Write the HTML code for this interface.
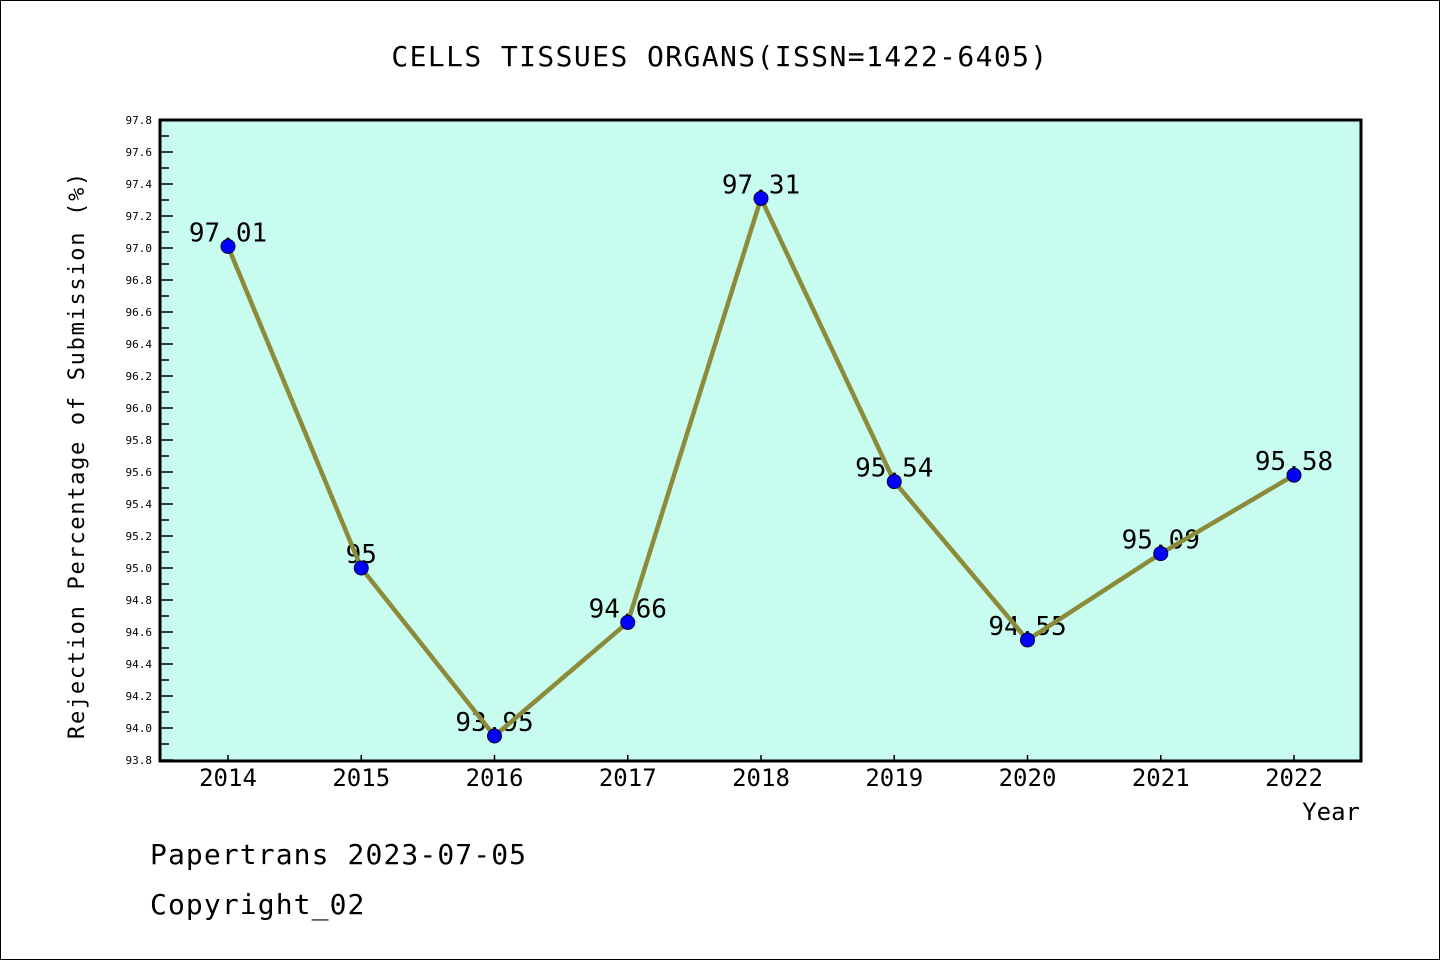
<!DOCTYPE html>
<html><head><meta charset="utf-8"><style>
body{margin:0;background:#fff}
svg{display:block}
text{font-family:"DejaVu Sans Mono","Liberation Mono",monospace}
</style></head><body>
<svg id="chart" width="1440" height="960" xmlns="http://www.w3.org/2000/svg">
<rect x="0.5" y="0.5" width="1439" height="959" fill="#fff" stroke="#000" stroke-width="1"/>
<text x="720" y="66" font-size="28" letter-spacing="1.4" text-anchor="middle">CELLS TISSUES ORGANS(ISSN=1422-6405)</text>
<rect x="160" y="120" width="1201" height="641" fill="#c8fcee"/>
<g id="yticks"></g>
<g id="xticks"></g>
<g id="labels"></g>
<path id="line" fill="none" stroke="#8b8b3a" stroke-width="4.5" stroke-linejoin="round"/>
<g id="points"></g>
<rect x="160" y="120" width="1201" height="641" fill="none" stroke="#000" stroke-width="3"/>
<text transform="translate(84,455) rotate(-90)" font-size="22" text-anchor="middle" letter-spacing="1.7">Rejection Percentage of Submission (%)</text>
<text x="1360" y="820" font-size="24" text-anchor="end">Year</text>
<text x="150" y="864" font-size="28" letter-spacing="1.1">Papertrans 2023-07-05</text>
<text x="150" y="914" font-size="28" letter-spacing="1.1">Copyright_02</text>
</svg>
<script>
const years=["2014","2015","2016","2017","2018","2019","2020","2021","2022"];
const values=[97.01,95,93.95,94.66,97.31,95.54,94.55,95.09,95.58];
const valueLabels=["97.01","95","93.95","94.66","97.31","95.54","94.55","95.09","95.58"];
const yMin=93.8,yMax=97.8;
const NS="http://www.w3.org/2000/svg";
const X=i=>228+i*(1294-228)/(years.length-1);
const Y=v=>760-(v-yMin)/(yMax-yMin)*640;
function mk(t,a,p){const e=document.createElementNS(NS,t);for(const k in a)e.setAttribute(k,a[k]);p.appendChild(e);return e;}
const yt=document.getElementById('yticks');
for(let k=0;k<=40;k++){const v=yMin+k*0.1;const y=Y(v);const major=k%2===0;
 const l=mk('line',{x1:160,x2:major?173:169,y1:y,y2:y,stroke:'#000','stroke-width':1.5},yt);
 
 
 if(major){const t=mk('text',{x:152,y:y+4,'font-size':11,'text-anchor':'end'},yt);t.textContent=v.toFixed(1);
 
 }}
const xt=document.getElementById('xticks');
years.forEach((yr,i)=>{const x=X(i);
 const l=mk('line',{x1:x,x2:x,y1:761,y2:755,stroke:'#000','stroke-width':1.5},xt);
 
 
 const t=mk('text',{x:x,y:786,'font-size':24,'text-anchor':'middle'},xt);t.textContent=yr;
 
 });
const lb=document.getElementById('labels');
values.forEach((v,i)=>{const t=mk('text',{x:X(i),y:Y(v)-5,'font-size':26,'text-anchor':'middle'},lb);t.textContent=valueLabels[i];
 
 });
document.getElementById('line').setAttribute('d',values.map((v,i)=>(i?'L':'M')+X(i)+','+Y(v)).join(' '));
const pts=document.getElementById('points');
values.forEach((v,i)=>{const c=mk('circle',{cx:X(i),cy:Y(v),r:7,fill:'#0000ff',stroke:'#000030','stroke-width':1},pts);
 
 });
</script>
</body></html>
